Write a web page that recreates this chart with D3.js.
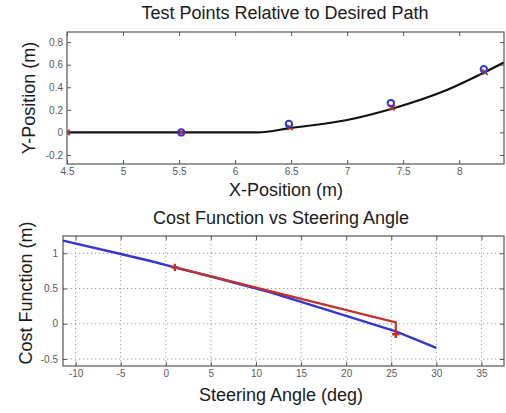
<!DOCTYPE html>
<html><head><meta charset="utf-8">
<script src="https://cdn.jsdelivr.net/npm/d3@7"></script>
<style>
body{margin:0;background:#fff;}
svg{display:block;font-family:"Liberation Sans",Arial,sans-serif;}
</style></head>
<body><svg id="c" width="506" height="413"></svg>
<script>
// ---- Top chart data ----
const pathX = [4.5, 5.0, 5.5, 6.0, 6.2, 6.5, 7.0, 7.4, 7.9, 8.2, 8.4];
const pathY = [0, 0, 0, 0, 0, 0.04, 0.11, 0.21, 0.38, 0.52, 0.62];
const testX = [5.52, 6.48, 7.39, 8.22];
const testY = [0, 0.075, 0.26, 0.56];
const projX = [4.5, 5.52, 6.49, 7.40, 8.23];
const projY = [0, 0, 0.045, 0.22, 0.535];
const topXTicks = [4.5, 5, 5.5, 6, 6.5, 7, 7.5, 8];
const topYTicks = [-0.2, 0, 0.2, 0.4, 0.6, 0.8];
// ---- Bottom chart data ----
const angleBlue = [-11.4, -5, -1.7, 1, 5, 11.5, 15, 20, 25.5, 30];
const costBlue  = [1.18, 0.99, 0.89, 0.80, 0.67, 0.45, 0.31, 0.11, -0.11, -0.344];
const angleRed = [1.0, 25.5, 25.5];
const costRed  = [0.80, 0.02, -0.15];
const botXTicks = [-10, -5, 0, 5, 10, 15, 20, 25, 30, 35];
const botYTicks = [-0.5, 0, 0.5, 1];

const svg = d3.select("#c");
const tickCol = "#5a5a5a", boxCol = "#555", textCol = "#1a1a1a";
const fmt = d => String(d);

function frame(g, x, y, xt, yt, grid, padX, padY) {
  const [x0, x1] = x.range(), [y1, y0] = y.range();
  if (grid) {
    g.append("g").selectAll("line").data(xt).join("line")
      .attr("x1", d => x(d)).attr("x2", d => x(d)).attr("y1", y0).attr("y2", y1)
      .attr("stroke", "#999").attr("stroke-width", 1).attr("stroke-dasharray", "1.2,2.8");
    g.append("g").selectAll("line").data(yt).join("line")
      .attr("y1", d => y(d)).attr("y2", d => y(d)).attr("x1", x0).attr("x2", x1)
      .attr("stroke", "#999").attr("stroke-width", 1).attr("stroke-dasharray", "1.2,2.8");
  }
  const style = a => {
    a.select(".domain").remove();
    a.selectAll(".tick line").attr("stroke", boxCol);
    a.selectAll(".tick text").attr("fill", tickCol).attr("font-size", 10);
  };
  g.append("g").attr("transform", `translate(0,${y1})`)
    .call(d3.axisBottom(x).tickValues(xt).tickSizeInner(-4).tickSizeOuter(0).tickPadding(padX).tickFormat(fmt))
    .call(style);
  g.append("g").attr("transform", `translate(0,${y0})`)
    .call(d3.axisTop(x).tickValues(xt).tickSizeInner(-4).tickSizeOuter(0).tickFormat(""))
    .call(style);
  g.append("g").attr("transform", `translate(${x0},0)`)
    .call(d3.axisLeft(y).tickValues(yt).tickSizeInner(-4).tickSizeOuter(0).tickPadding(padY).tickFormat(fmt))
    .call(style);
  g.append("g").attr("transform", `translate(${x1},0)`)
    .call(d3.axisRight(y).tickValues(yt).tickSizeInner(-4).tickSizeOuter(0).tickFormat(""))
    .call(style);
  g.append("rect").attr("x", x0).attr("y", y0).attr("width", x1 - x0).attr("height", y1 - y0)
    .attr("fill", "none").attr("stroke", boxCol).attr("stroke-width", 1.2);
}

const blue = "#3535d0", red = "#c4302c";
const xSym = d3.symbolTimes || d3.symbolCross;

// ---- Top chart ----
{
  const x = d3.scaleLinear().domain([4.5, 8.4]).range([67, 504]);
  const y = d3.scaleLinear().domain([-0.28, 0.89]).range([164, 32]);
  const g = svg.append("g");
  g.append("defs").append("clipPath").attr("id", "ct").append("rect")
    .attr("x", 67).attr("y", 32).attr("width", 437).attr("height", 132);
  const pts = pathX.map((v, i) => [v, pathY[i]]);
  const pg = g.append("g").attr("clip-path", "url(#ct)");
  pg.append("path").datum(pts)
    .attr("d", d3.line().x(d => x(d[0])).y(d => y(d[1])).curve(d3.curveMonotoneX))
    .attr("fill", "none").attr("stroke", "#111").attr("stroke-width", 2.2);
  pg.selectAll("path.pr").data(projX).join("path")
    .attr("transform", (d, i) => `translate(${x(d)},${y(projY[i])})`)
    .attr("d", d3.symbol().type(xSym).size(22))
    .attr("fill", "none").attr("stroke", red).attr("stroke-width", 1.8);
  pg.selectAll("circle").data(testX).join("circle")
    .attr("cx", d => x(d)).attr("cy", (d, i) => y(testY[i])).attr("r", 3.2)
    .attr("fill", "none").attr("stroke", blue).attr("stroke-width", 2);
  frame(g, x, y, topXTicks, topYTicks, false, 4, 4);
  g.append("text").attr("x", 285).attr("y", 19).attr("text-anchor", "middle")
    .attr("font-size", 18).attr("fill", textCol).text("Test Points Relative to Desired Path");
  g.append("text").attr("x", 286).attr("y", 196).attr("text-anchor", "middle")
    .attr("font-size", 18).attr("fill", textCol).text("X-Position (m)");
  g.append("text").attr("transform", "translate(35,98) rotate(-90)").attr("text-anchor", "middle")
    .attr("font-size", 18).attr("fill", textCol).text("Y-Position (m)");
}

// ---- Bottom chart ----
{
  const x = d3.scaleLinear().domain([-11.4, 37.5]).range([63, 504]);
  const y = d3.scaleLinear().domain([-0.6, 1.245]).range([366, 236]);
  const g = svg.append("g");
  frame(g, x, y, botXTicks, botYTicks, true, 4, 5);
  const line = d3.line().x(d => x(d[0])).y(d => y(d[1]));
  g.append("path").datum(angleBlue.map((v, i) => [v, costBlue[i]]))
    .attr("d", line).attr("fill", "none").attr("stroke", blue).attr("stroke-width", 2.4);
  g.append("path").datum(angleRed.map((v, i) => [v, costRed[i]]))
    .attr("d", line).attr("fill", "none").attr("stroke", red).attr("stroke-width", 2.2);
  const ends = [0, angleRed.length - 1];
  g.selectAll("path.m").data(ends).join("path")
    .attr("transform", i => `translate(${x(angleRed[i])},${y(costRed[i])})`)
    .attr("d", d3.symbol().type(d3.symbolCross).size(30))
    .attr("fill", red);
  g.append("text").attr("x", 281).attr("y", 224).attr("text-anchor", "middle")
    .attr("font-size", 18).attr("fill", textCol).text("Cost Function vs Steering Angle");
  g.append("text").attr("x", 281).attr("y", 401).attr("text-anchor", "middle")
    .attr("font-size", 18).attr("fill", textCol).text("Steering Angle (deg)");
  g.append("text").attr("transform", "translate(32,293) rotate(-90)").attr("text-anchor", "middle")
    .attr("font-size", 18).attr("fill", textCol).text("Cost Function (m)");
}
</script></body></html>
